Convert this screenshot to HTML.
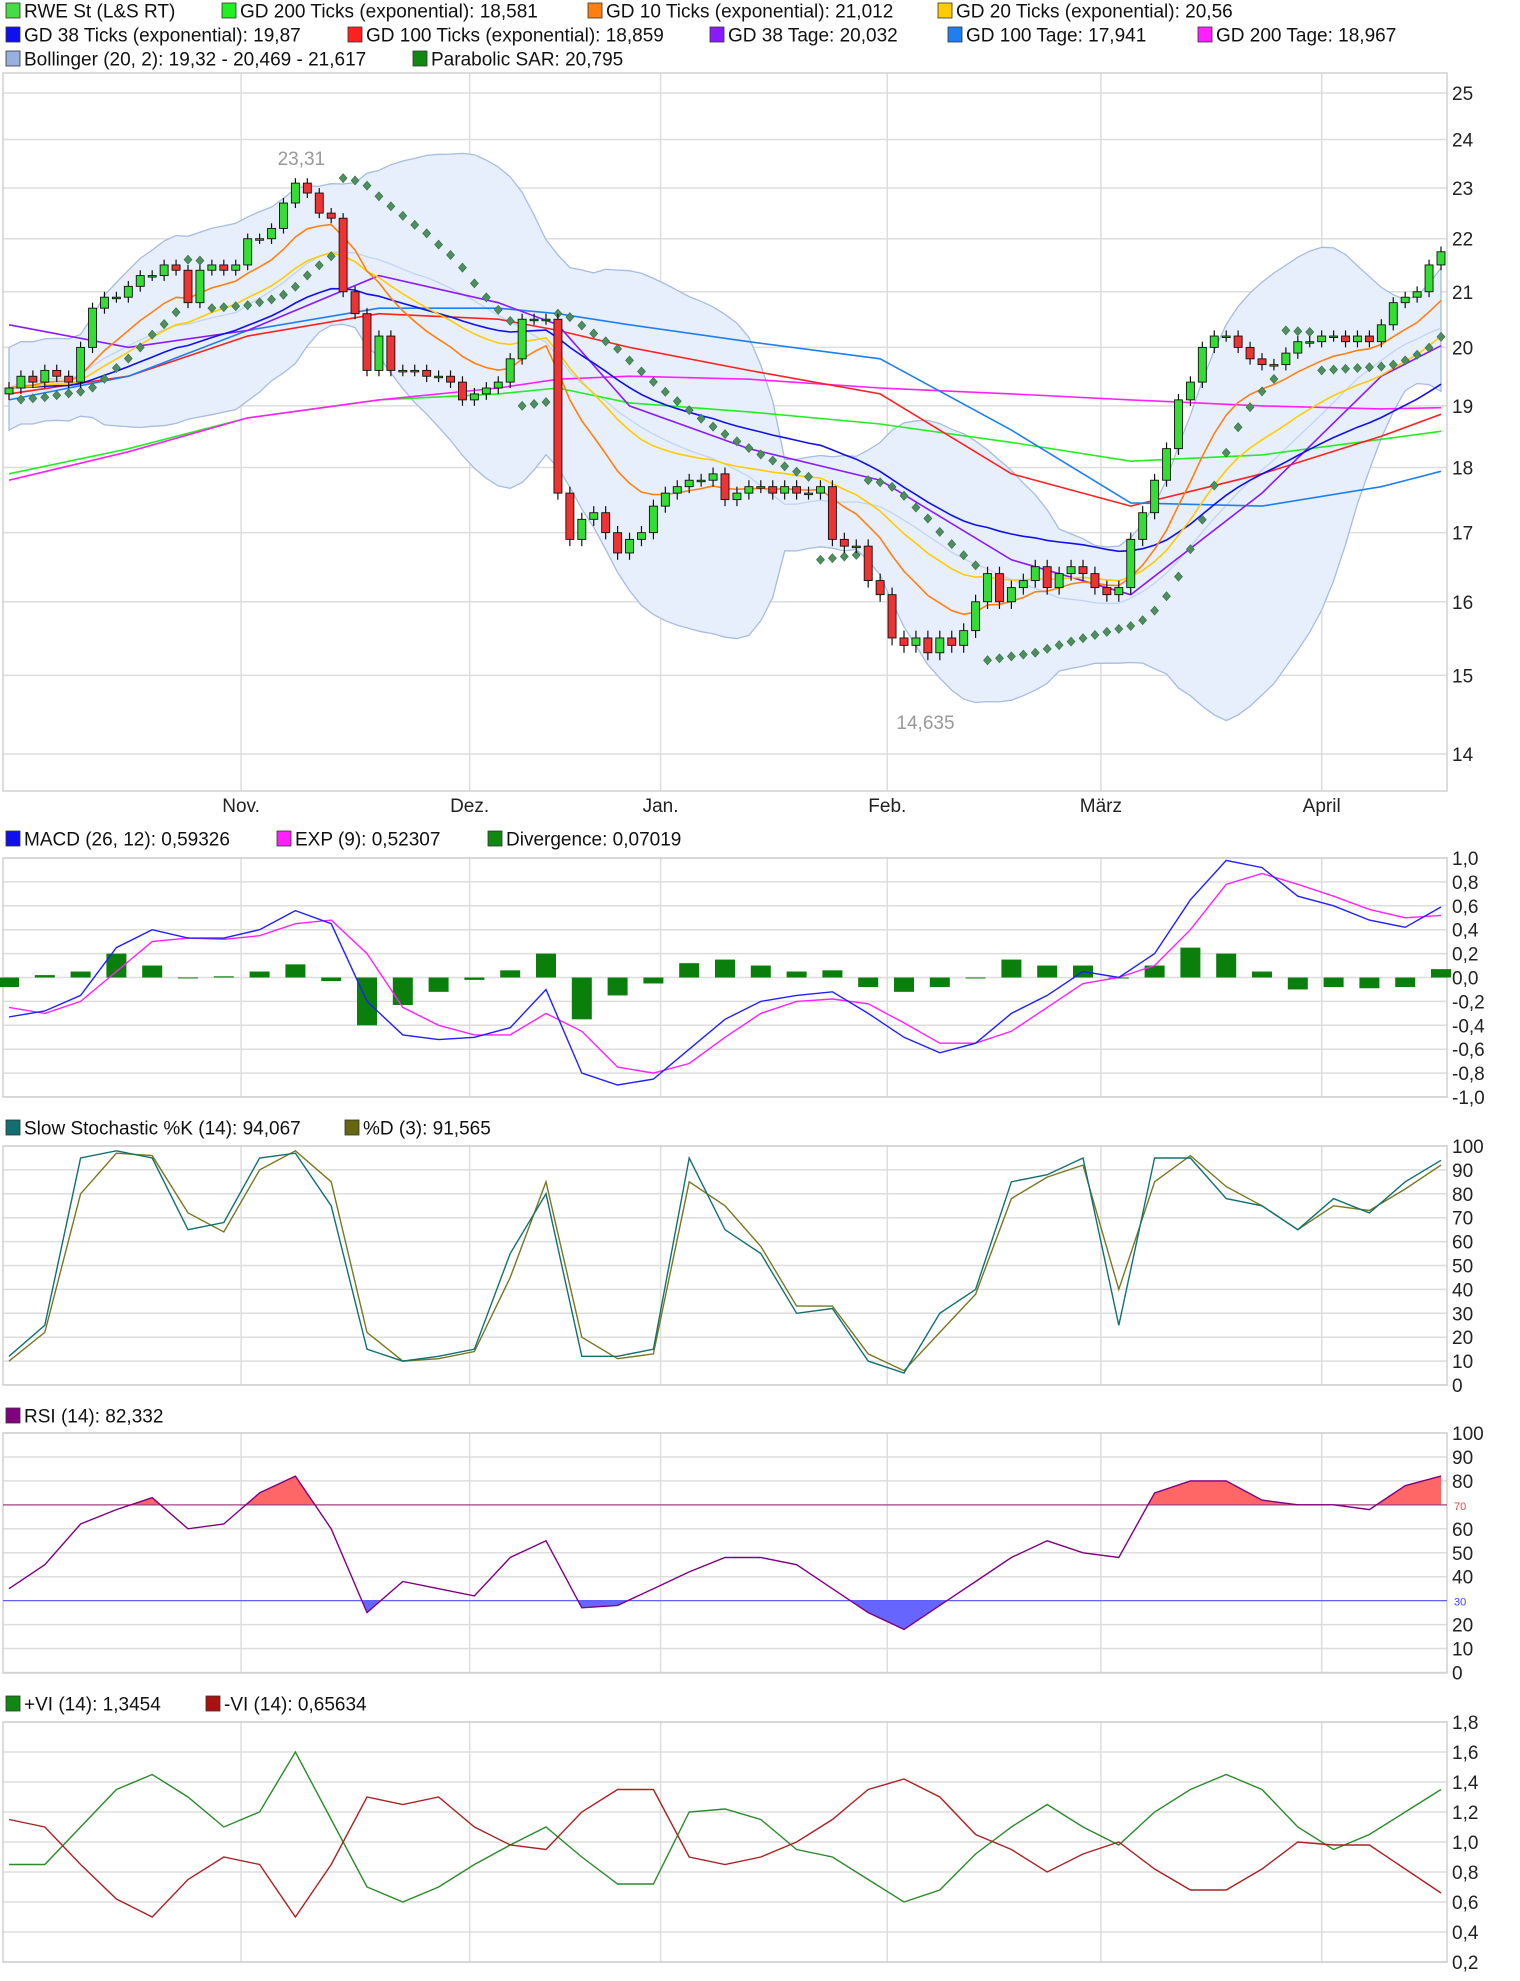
<!DOCTYPE html>
<html><head><meta charset="utf-8"><title>RWE St Chart</title>
<style>
html,body{margin:0;padding:0;background:#fff;}
svg{display:block;font-family:"Liberation Sans",Arial,sans-serif;}
</style></head>
<body>
<svg id="chart" width="1520" height="1981" viewBox="0 0 1520 1981" xmlns="http://www.w3.org/2000/svg"></svg>
<script>
// ===== data =====
const closes = [19.3,19.5,19.4,19.6,19.5,19.4,20.0,20.7,20.9,20.9,21.1,21.3,21.3,21.5,21.4,20.8,21.4,21.5,21.4,21.5,
22.0,22.0,22.2,22.7,23.1,22.9,22.5,22.4,21.0,20.6,19.6,20.2,19.6,19.6,19.6,19.5,19.5,19.4,19.1,19.2,
19.3,19.4,19.8,20.5,20.5,20.5,17.6,16.9,17.2,17.3,17.0,16.7,16.9,17.0,17.4,17.6,17.7,17.8,17.8,17.9,
17.5,17.6,17.7,17.7,17.6,17.7,17.6,17.6,17.7,16.9,16.8,16.8,16.3,16.1,15.5,15.4,15.5,15.3,15.5,15.4,
15.6,16.0,16.4,16.0,16.2,16.3,16.5,16.2,16.4,16.5,16.4,16.2,16.1,16.2,16.9,17.3,17.8,18.3,19.1,19.4,
20.0,20.2,20.2,20.0,19.8,19.7,19.7,19.9,20.1,20.1,20.2,20.2,20.1,20.2,20.1,20.4,20.8,20.9,21.0,21.5,21.75];
const firstOpen = 19.2;
const monthIdx = [19.45,38.6,54.6,73.6,91.5,110];
const monthLabels = ["Nov.","Dez.","Jan.","Feb.","März","April"];
const priceTicks = [14,15,16,17,18,19,20,21,22,23,24,25];

// long moving averages sampled at candle indices
const maIdx = [0,10,20,31,41,46,52,62,73,84,94,105,115,120];
const gd200Ticks = [17.9,18.3,18.8,19.1,19.2,19.3,19.05,18.9,18.7,18.4,18.1,18.2,18.45,18.58];
const gd200Tage  = [17.8,18.25,18.8,19.1,19.3,19.45,19.5,19.45,19.3,19.2,19.1,19.0,18.95,18.97];
const gd100Ticks = [19.2,19.5,20.2,20.6,20.5,20.3,20.0,19.6,19.2,17.9,17.4,17.9,18.5,18.86];
const gd100Tage  = [19.1,19.5,20.3,20.7,20.7,20.6,20.4,20.1,19.8,18.6,17.45,17.4,17.7,17.94];
const gd38Tage   = [20.4,20.0,20.3,21.3,20.8,20.4,19.0,18.3,17.8,16.6,16.1,17.6,19.5,20.03];

// indicator samples at candle index 3k
const indIdx = [0,3,6,9,12,15,18,21,24,27,30,33,36,39,42,45,48,51,54,57,60,63,66,69,72,75,78,81,84,87,90,93,96,99,102,105,108,111,114,117,120];
const macdLine = [-0.33,-0.28,-0.15,0.25,0.4,0.33,0.33,0.4,0.56,0.45,-0.2,-0.48,-0.52,-0.5,-0.42,-0.1,-0.8,-0.9,-0.85,-0.6,-0.35,-0.2,-0.15,-0.12,-0.3,-0.5,-0.63,-0.55,-0.3,-0.15,0.05,0.0,0.2,0.65,0.98,0.92,0.68,0.6,0.48,0.42,0.59];
const signalLine = [-0.25,-0.3,-0.2,0.05,0.3,0.33,0.32,0.35,0.45,0.48,0.2,-0.25,-0.4,-0.48,-0.48,-0.3,-0.45,-0.75,-0.8,-0.72,-0.5,-0.3,-0.2,-0.18,-0.22,-0.38,-0.55,-0.55,-0.45,-0.25,-0.05,0.0,0.1,0.4,0.78,0.87,0.78,0.68,0.57,0.5,0.52];
const stochK = [12,25,95,98,95,65,68,95,97,75,15,10,12,15,55,80,12,12,15,95,65,55,30,32,10,5,30,40,85,88,95,25,95,95,78,75,65,78,72,85,94];
const stochD = [10,22,80,97,96,72,64,90,98,85,22,10,11,14,45,85,20,11,13,85,75,58,33,33,13,6,22,38,78,87,92,40,85,96,83,75,65,75,73,82,92];
const rsiVals = [35,45,62,68,73,60,62,75,82,60,25,38,35,32,48,55,27,28,35,42,48,48,45,35,25,18,28,38,48,55,50,48,75,80,80,72,70,70,68,78,82];
const viPlus = [0.85,0.85,1.1,1.35,1.45,1.3,1.1,1.2,1.6,1.15,0.7,0.6,0.7,0.85,0.98,1.1,0.9,0.72,0.72,1.2,1.22,1.15,0.95,0.9,0.75,0.6,0.68,0.92,1.1,1.25,1.1,0.98,1.2,1.35,1.45,1.35,1.1,0.95,1.05,1.2,1.35];
const viMinus = [1.15,1.1,0.85,0.62,0.5,0.75,0.9,0.85,0.5,0.85,1.3,1.25,1.3,1.1,0.98,0.95,1.2,1.35,1.35,0.9,0.85,0.9,1.0,1.15,1.35,1.42,1.3,1.05,0.95,0.8,0.92,1.0,0.82,0.68,0.68,0.82,1.0,0.98,0.98,0.82,0.66];

// ===== layout =====
const svg = document.getElementById('chart');
const NS = 'http://www.w3.org/2000/svg';
const L = 3, R = 1447;
function xi(i){ return 9 + i * (1432 / 120); }
function yP(p){ return 93 + 1140 * (Math.log(25) - Math.log(p)); }
function yM(v){ return 977.5 - v * 119.5; }
function yS(v){ return 1385 - v * 2.39; }
function yR(v){ return 1672.5 - v * 2.395; }
function yV(v){ return 1962 - (v - 0.2) * 150; }
function mk(tag, attrs, parent){
  const e = document.createElementNS(NS, tag);
  for (const k in attrs) e.setAttribute(k, attrs[k]);
  (parent || svg).appendChild(e);
  return e;
}
function txt(s, x, y, attrs, parent){
  const e = mk('text', Object.assign({x:x, y:y, 'font-size':19, fill:'#222'}, attrs), parent);
  e.textContent = s;
  return e;
}
function pathFrom(idx, vals, yf){
  return idx.map((i,k)=>(k?'L':'M')+xi(i).toFixed(1)+' '+yf(vals[k]).toFixed(1)).join(' ');
}
function ema(a, n){ const k = 2/(n+1); const o=[a[0]]; for(let i=1;i<a.length;i++) o.push(a[i]*k + o[i-1]*(1-k)); return o; }

// ===== legends =====
function legend(items, y){
  items.forEach(it=>{
    let r = mk('rect', {x:it[0], y:y-8, width:14, height:15, fill:it[2], stroke:'#333', 'stroke-width':0.8});
    
    
    let t = txt(it[1], it[0]+18, y+6.5, {'font-size':19, fill:'#111'});
    
    
  });
}
legend([[6,'RWE St (L&S RT)','#44dd44'],[222,'GD 200 Ticks (exponential): 18,581','#22ee22'],[588,'GD 10 Ticks (exponential): 21,012','#ff8010'],[938,'GD 20 Ticks (exponential): 20,56','#ffcc00']], 11);
legend([[6,'GD 38 Ticks (exponential): 19,87','#1010ee'],[348,'GD 100 Ticks (exponential): 18,859','#ff2020'],[710,'GD 38 Tage: 20,032','#8a1aff'],[948,'GD 100 Tage: 17,941','#1e80f0'],[1198,'GD 200 Tage: 18,967','#ff20ff']], 35);
legend([[6,'Bollinger (20, 2): 19,32 - 20,469 - 21,617','#98b0e0'],[413,'Parabolic SAR: 20,795','#118811']], 59);
legend([[6,'MACD (26, 12): 0,59326','#1010ee'],[277,'EXP (9): 0,52307','#ff20ff'],[488,'Divergence: 0,07019','#118811']], 839);
legend([[6,'Slow Stochastic %K (14): 94,067','#136f6f'],[345,'%D (3): 91,565','#666610']], 1128);
legend([[6,'RSI (14): 82,332','#800080']], 1416);
legend([[6,'+VI (14): 1,3454','#118811'],[206,'-VI (14): 0,65634','#aa1111']], 1704);

// ===== panels =====
function panel(name, top, bottom, ticks, yf, fmt){
  const g = mk('g', {});
  
  
  ticks.forEach(v=>{
    const y = yf(v);
    let ln = mk('line', {x1:L, x2:R, y1:y, y2:y, stroke:'#dddddd', 'stroke-width':1.5}, g);
    
    
    let t = txt(fmt(v), 1452, y+7, {}, g);
    
    
  });
  monthIdx.forEach(m=>{
    let ln = mk('line', {x1:xi(m), x2:xi(m), y1:top, y2:bottom, stroke:'#dddddd', 'stroke-width':1.5}, g);
    
    
  });
  let b = mk('rect', {x:L, y:top, width:R-L, height:bottom-top, fill:'none', stroke:'#d0d0d0', 'stroke-width':1.5}, g);
  
  
  return g;
}
const de = v => v.toFixed(1).replace('.', ',');
const gMain = panel('price-panel', 73, 791, priceTicks, yP, v=>String(v));
monthIdx.forEach((m,k)=>{
  let t = txt(monthLabels[k], xi(m), 812, {'text-anchor':'middle'});
  
  
});
const gMacd = panel('macd-panel', 858, 1097, [-1,-0.8,-0.6,-0.4,-0.2,0,0.2,0.4,0.6,0.8,1], yM, v=>(Math.abs(v)<1e-9?'0,0':de(v)));
const gSto = panel('stochastic-panel', 1146, 1385, [0,10,20,30,40,50,60,70,80,90,100], yS, v=>String(v));
const gRsi = panel('rsi-panel', 1433, 1673, [0,10,20,40,50,60,80,90,100], yR, v=>String(v));
const gVi = panel('vortex-panel', 1722, 1962, [0.2,0.4,0.6,0.8,1.0,1.2,1.4,1.6,1.8], yV, de);

// ===== main chart =====
const N = closes.length;
const opens = closes.map((c,i)=> i ? closes[i-1] : firstOpen);
const highs = closes.map((c,i)=> Math.max(c, opens[i]) + 0.1);
const lows = closes.map((c,i)=> Math.min(c, opens[i]) - 0.1);
const allIdx = closes.map((c,i)=>i);

// Bollinger
const mid=[], up=[], lo=[];
for (let i=0;i<N;i++){
  const s = closes.slice(Math.max(0,i-19), i+1);
  const m = s.reduce((a,b)=>a+b,0)/s.length;
  const sd = Math.sqrt(s.reduce((a,b)=>a+(b-m)*(b-m),0)/s.length);
  const w = Math.max(sd, 0.35);
  mid.push(m); up.push(m+2*w); lo.push(m-2*w);
}
let band = mk('path', {d: pathFrom(allIdx, up, yP) + ' ' + allIdx.slice().reverse().map(i=>'L'+xi(i).toFixed(1)+' '+yP(lo[i]).toFixed(1)).join(' ') + ' Z', fill:'#e8effc', stroke:'#a6bce2', 'stroke-width':1.3}, gMain);


let bm = mk('path', {d: pathFrom(allIdx, mid, yP), fill:'none', stroke:'#c2d4f2', 'stroke-width':1.3}, gMain);



function line(g, idx, vals, yf, color, name, w){
  const p = mk('path', {d: pathFrom(idx, vals, yf), fill:'none', stroke:color, 'stroke-width':w||1.6}, g);
  
  
  return p;
}
line(gMain, maIdx, gd200Ticks, yP, '#22ee22', 'gd200-ticks-line');
line(gMain, maIdx, gd200Tage, yP, '#ff20ff', 'gd200-tage-line');
line(gMain, maIdx, gd100Ticks, yP, '#ff2020', 'gd100-ticks-line');
line(gMain, maIdx, gd100Tage, yP, '#1e80f0', 'gd100-tage-line');
line(gMain, maIdx, gd38Tage, yP, '#8a1aff', 'gd38-tage-line');
line(gMain, allIdx, ema(closes,38), yP, '#1010ee', 'gd38-ticks-line');
line(gMain, allIdx, ema(closes,20), yP, '#ffcc00', 'gd20-ticks-line');
line(gMain, allIdx, ema(closes,10), yP, '#ff8010', 'gd10-ticks-line');

// Parabolic SAR
(function(){
  let bull = true, af = 0.02, ep = highs[0], sar = lows[0];
  for (let i=1;i<N;i++){
    sar = sar + af*(ep - sar);
    if (bull){
      if (lows[i] < sar){ bull=false; sar=ep; ep=lows[i]; af=0.02; }
      else if (highs[i] > ep){ ep=highs[i]; af=Math.min(0.2, af+0.02); }
    } else {
      if (highs[i] > sar){ bull=true; sar=ep; ep=highs[i]; af=0.02; }
      else if (lows[i] < ep){ ep=lows[i]; af=Math.min(0.2, af+0.02); }
    }
    const x = xi(i), y = yP(sar);
    const d = mk('path', {d:`M${x} ${y-4.5} L${x+4} ${y} L${x} ${y+4.5} L${x-4} ${y} Z`, fill:'#4f8f5f', stroke:'#2f6f3f', 'stroke-width':0.6}, gMain);
    
    
  }
})();

// candles
for (let i=0;i<N;i++){
  const x = xi(i), o = opens[i], c = closes[i];
  const w = mk('line', {x1:x, x2:x, y1:yP(highs[i]), y2:yP(lows[i]), stroke:'#111', 'stroke-width':1.2}, gMain);
  
  
  const yt = yP(Math.max(o,c)), yb = yP(Math.min(o,c));
  const b = mk('rect', {x:x-4, y:yt, width:8, height:Math.max(1.5, yb-yt), fill: c>=o ? '#33dd33' : '#ee3333', stroke:'#111', 'stroke-width':0.9}, gMain);
  
  
}
let hi = txt('23,31', xi(24.5), 165, {'text-anchor':'middle', fill:'#999'}, gMain);


let lw = txt('14,635', xi(76.8), 729, {'text-anchor':'middle', fill:'#999'}, gMain);



// ===== MACD =====
indIdx.forEach((i,k)=>{
  const v = macdLine[k] - signalLine[k];
  const y0 = yM(0), y1 = yM(v);
  const r = mk('rect', {x:xi(i)-10, y:Math.min(y0,y1), width:20, height:Math.max(1,Math.abs(y1-y0)), fill:'#0b7f0b'}, gMacd);
  
  
});
line(gMacd, indIdx, signalLine, yM, '#ff20ff', 'macd-signal-line', 1.4);
line(gMacd, indIdx, macdLine, yM, '#2020ff', 'macd-line', 1.4);

// ===== Stochastic =====
line(gSto, indIdx, stochD, yS, '#777722', 'stoch-d-line', 1.4);
line(gSto, indIdx, stochK, yS, '#137070', 'stoch-k-line', 1.4);

// ===== RSI =====
const defs = mk('defs', {});
const c1 = mk('clipPath', {id:'above70'}, defs); mk('rect', {x:L, y:1433, width:R-L, height:yR(70)-1433}, c1);
const c2 = mk('clipPath', {id:'below30'}, defs); mk('rect', {x:L, y:yR(30), width:R-L, height:1673-yR(30)}, c2);
const rsiPath = pathFrom(indIdx, rsiVals, yR);
let fa = mk('path', {d: rsiPath + ` L${xi(120)} ${yR(70)} L${xi(0)} ${yR(70)} Z`, fill:'#ff6666', 'clip-path':'url(#above70)'}, gRsi);


let fb = mk('path', {d: rsiPath + ` L${xi(120)} ${yR(30)} L${xi(0)} ${yR(30)} Z`, fill:'#6666ff', 'clip-path':'url(#below30)'}, gRsi);


let l70 = mk('line', {x1:L, x2:R, y1:yR(70), y2:yR(70), stroke:'#a04080', 'stroke-width':1.2}, gRsi);


let l30 = mk('line', {x1:L, x2:R, y1:yR(30), y2:yR(30), stroke:'#6060ff', 'stroke-width':1.2}, gRsi);


let t70 = txt('70', 1454, yR(70)+5, {'font-size':11, fill:'#ee4444'}, gRsi);


let t30 = txt('30', 1454, yR(30)+5, {'font-size':11, fill:'#4444ee'}, gRsi);


line(gRsi, indIdx, rsiVals, yR, '#800080', 'rsi-line', 1.4);

// ===== Vortex =====
line(gVi, indIdx, viPlus, yV, '#2a8a2a', 'vi-plus-line', 1.4);
line(gVi, indIdx, viMinus, yV, '#aa2222', 'vi-minus-line', 1.4);
</script>
</body></html>
